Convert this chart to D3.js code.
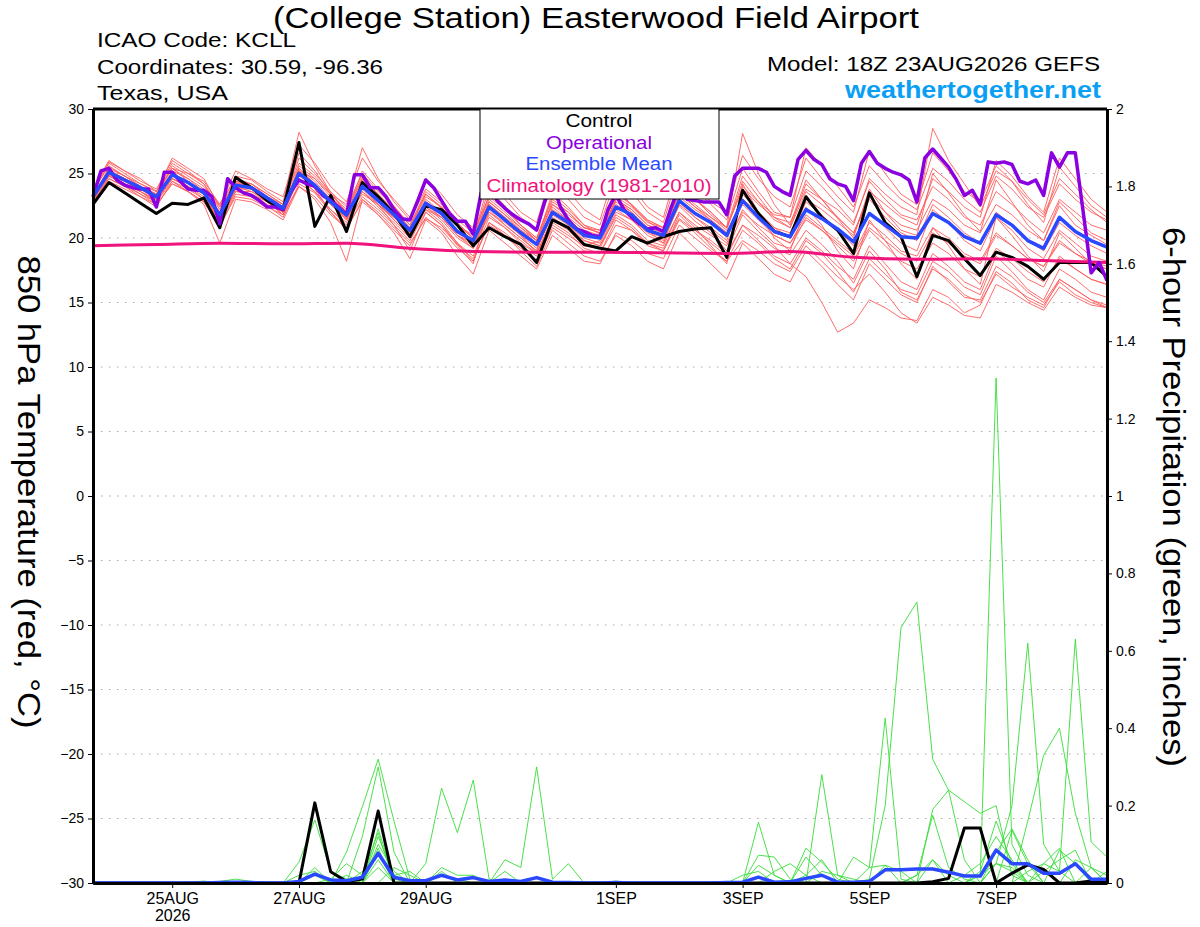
<!DOCTYPE html>
<html>
<head>
<meta charset="utf-8">
<script src="https://cdn.jsdelivr.net/npm/d3@7"></script>
<style>
  body { margin: 0; background: #fff; }
  text { font-family: "Liberation Sans", Helvetica, Arial, sans-serif; }
</style>
</head>
<body>
<div id="chart"></div>
<script>
// run info
const runStart = "2026-08-23T18:00:00Z";
const forecastHours = 384;
const ensStepHours = 6;
const opStepHours = 3;
const climoStepHours = 24;

const tempTicks = [-30, -25, -20, -15, -10, -5, 0, 5, 10, 15, 20, 25, 30];
const precipTicks = [0, 0.2, 0.4, 0.6, 0.8, 1, 1.2, 1.4, 1.6, 1.8, 2];
const dateTicks = ["2026-08-25", "2026-08-27", "2026-08-29", "2026-09-01", "2026-09-03", "2026-09-05", "2026-09-07"];

// 850 hPa temperature, 6-hourly
const controlTemp = [22.6, 24.3, 23.5, 22.7, 21.9, 22.7, 22.6, 23.1, 20.8, 24.7, 23.9, 22.9, 22.2,
  27.4, 20.9, 23.3, 20.5, 24.3, 23.2, 21.9, 20.1, 22.5, 22.2, 21.0, 19.4,
  20.8, 20.1, 19.5, 18.1, 21.4, 20.8, 19.5, 19.2, 19.0, 20.1, 19.6, 20.1, 20.5, 20.7, 20.8, 18.5, 23.7, 21.9, 20.5, 20.1,
  23.2, 21.6, 20.6, 18.8, 23.5, 21.2, 20.1, 17.0, 20.2, 19.8, 18.4, 17.1, 18.9, 18.5, 17.8, 16.8, 18.1, 18.1, 18.1, 17.0];

const meanTemp = [23.2, 25.1, 24.5, 23.9, 23.2, 24.9, 24.3, 23.5, 21.8, 24.1, 23.9, 23.1, 22.3,
  25.0, 24.1, 22.8, 21.8, 24.0, 22.9, 21.8, 20.6, 22.7, 21.9, 20.5, 19.8,
  22.4, 21.4, 20.4, 19.5, 22.0, 21.2, 20.2, 20.0, 22.4, 21.8, 20.6, 20.2, 22.9, 21.9, 21.2, 20.2, 22.9, 21.6, 20.5, 20.1,
  22.2, 21.5, 20.7, 19.7, 21.9, 21.0, 20.1, 20.0, 21.9, 21.2, 20.1, 19.6, 21.8, 21.0, 19.8, 19.2, 21.6, 20.5, 19.8, 19.3];

// operational run, 3-hourly
const operationalTemp = [23.2, 25.2, 25.4, 24.5, 24.1, 23.9, 23.8, 23.8, 22.4, 25.1, 25.1, 24.4, 23.8, 23.7, 23.7, 23.2,
  21.1, 24.6, 23.9, 23.5, 23.3, 22.9, 22.4, 22.4, 22.2, 23.6, 24.5, 24.2, 24.0, 23.3, 22.9, 22.4,
  21.8, 24.9, 24.9, 23.9, 23.9, 23.2, 22.2, 21.5, 21.4, 22.9, 24.5, 23.9, 22.9, 21.9, 21.3, 21.3,
  20.3, 23.5, 24.6, 22.9, 22.3, 21.8, 21.4, 21.1, 20.6, 22.8, 24.3, 22.4, 21.4, 20.7, 20.5, 20.2,
  20.1, 22.2, 23.4, 22.2, 21.6, 21.1, 20.7, 20.8, 20.5, 22.4, 24.0, 23.0, 22.9, 22.8, 22.8, 22.8,
  21.8, 24.8, 25.4, 25.4, 25.4, 25.1, 24.0, 23.6, 23.3, 26.1, 26.8, 26.1, 25.7, 24.6, 24.2, 24.0,
  22.9, 25.8, 26.7, 25.8, 25.4, 25.1, 24.9, 24.5, 22.8, 26.2, 26.9, 26.2, 25.5, 24.5, 23.3, 23.7,
  22.6, 25.9, 25.8, 25.9, 25.7, 24.4, 24.2, 24.5, 23.3, 26.6, 25.5, 26.6, 26.6, 22.0, 17.3, 18.1, 16.7];

// climatology 1981-2010, daily
const climoTemp = [19.4, 19.5, 19.6, 19.55, 19.6, 19.2, 18.95, 18.9, 18.9, 18.85, 18.8, 18.95, 18.5, 18.35, 18.4, 18.25, 18.1];

// ensemble members, 6-hourly
const redMembers = [
  [23.5, 25.8, 25.0, 24.2, 23.6, 26.2, 25.4, 24.6, 22.4, 24.8, 24.5, 23.6, 22.8,
   28.2, 25.6, 23.5, 22.0, 25.2, 23.8, 22.5, 21.0, 23.4, 22.3, 21.2, 20.0,
   23.8, 22.5, 21.0, 19.8, 23.5, 22.4, 21.0, 20.3, 24.0, 22.5, 21.3, 20.5, 24.6, 23.0, 22.0, 20.8, 28.1, 25.0, 22.6, 21.0,
   24.5, 23.0, 21.5, 20.0, 23.8, 22.0, 20.6, 20.2, 25.0, 23.5, 21.8, 20.5, 24.5, 22.8, 21.0, 19.8, 22.5, 21.0, 20.2, 19.5],
  [22.8, 24.6, 24.0, 23.4, 22.6, 24.2, 23.6, 22.8, 20.8, 23.4, 23.2, 22.5, 21.6,
   24.2, 23.5, 22.0, 20.6, 23.0, 22.0, 20.8, 19.6, 21.5, 20.8, 19.5, 18.4,
   21.0, 20.2, 19.2, 18.3, 20.8, 20.0, 19.0, 18.8, 21.0, 20.6, 19.6, 19.2, 21.5, 20.6, 19.8, 18.8, 21.0, 20.2, 19.2, 18.7,
   20.6, 19.5, 18.2, 16.5, 19.0, 17.6, 15.8, 15.2, 17.6, 16.8, 15.6, 15.0, 17.2, 16.2, 15.4, 14.8, 16.6, 15.6, 15.0, 14.6],
  [23.0, 25.2, 24.6, 24.0, 23.4, 25.4, 24.6, 23.8, 22.0, 24.3, 24.0, 23.0, 22.2,
   25.4, 24.4, 23.0, 21.5, 24.5, 23.2, 22.0, 20.6, 23.0, 22.0, 20.6, 19.4,
   22.0, 21.0, 20.0, 19.0, 22.4, 21.4, 20.4, 20.0, 22.6, 21.8, 20.5, 20.0, 22.5, 21.3, 20.4, 19.0, 21.8, 20.5, 19.4, 18.0,
   17.0, 15.0, 12.7, 13.4, 15.2, 14.6, 13.8, 13.6, 16.0, 15.4, 14.2, 14.8, 17.4, 16.5, 15.2, 14.6, 16.8, 16.0, 15.2, 14.6],
  [23.3, 25.3, 24.6, 24.0, 23.0, 24.8, 24.2, 23.6, 21.6, 24.0, 24.2, 23.4, 22.6,
   25.8, 24.8, 23.4, 22.2, 24.8, 23.4, 22.2, 20.8, 23.2, 22.4, 21.0, 20.2,
   23.0, 22.0, 20.8, 19.8, 22.8, 22.0, 20.8, 20.6, 23.2, 22.4, 21.2, 20.8, 24.0, 23.0, 22.0, 20.8, 23.8, 22.6, 21.6, 21.2,
   23.8, 23.0, 22.2, 21.0, 24.6, 23.4, 22.4, 21.8, 28.5, 26.0, 24.2, 22.4, 25.2, 24.4, 22.6, 21.2, 25.5, 24.0, 22.5, 21.6],
  [22.6, 24.8, 24.2, 23.6, 22.8, 25.0, 24.4, 23.4, 21.2, 23.8, 23.4, 22.6, 22.0,
   24.6, 23.6, 22.2, 21.2, 23.6, 22.4, 21.2, 20.0, 22.2, 21.2, 19.6, 18.6,
   21.6, 20.8, 19.6, 18.8, 21.4, 20.6, 19.4, 19.2, 21.8, 21.0, 19.8, 19.4, 22.0, 21.0, 20.2, 19.4, 22.2, 20.8, 19.6, 19.2,
   21.6, 20.6, 19.4, 18.2, 20.6, 19.4, 18.2, 17.6, 19.6, 18.8, 17.6, 17.0, 19.2, 18.4, 17.4, 16.6, 18.4, 17.6, 16.8, 16.4],
  [23.6, 25.6, 24.8, 24.0, 23.4, 25.6, 24.8, 24.0, 22.6, 24.6, 24.2, 23.2, 22.4,
   26.2, 25.0, 23.6, 22.4, 25.0, 23.6, 22.4, 21.0, 23.6, 22.6, 21.0, 20.0,
   24.4, 23.0, 21.6, 20.6, 24.2, 23.0, 21.6, 21.0, 24.6, 23.6, 22.0, 21.2, 25.2, 23.8, 22.6, 21.4, 25.4, 23.6, 22.0, 21.6,
   25.2, 24.0, 22.6, 21.2, 24.4, 23.0, 21.8, 21.4, 24.0, 23.0, 21.6, 21.0, 23.6, 22.6, 21.4, 20.4, 23.0, 22.0, 21.0, 20.6],
  [23.0, 24.9, 24.4, 23.8, 23.0, 24.6, 24.0, 23.2, 21.4, 23.6, 23.6, 23.0, 22.0,
   24.8, 24.0, 22.6, 21.6, 23.4, 22.6, 21.6, 20.4, 22.4, 21.6, 20.2, 19.4,
   22.2, 21.0, 20.0, 19.0, 22.0, 21.0, 19.8, 19.4, 22.0, 21.4, 20.2, 19.6, 22.8, 21.6, 20.8, 19.8, 23.4, 22.0, 20.8, 20.0,
   22.8, 21.8, 20.6, 19.4, 22.0, 20.8, 19.6, 19.0, 22.2, 21.2, 19.8, 19.0, 21.6, 20.6, 19.2, 18.4, 20.6, 19.6, 18.6, 18.2],
  [22.8, 24.6, 24.0, 23.2, 22.4, 24.4, 23.6, 22.6, 19.6, 23.0, 22.8, 22.2, 21.4,
   24.0, 23.0, 21.2, 18.2, 23.0, 21.8, 20.4, 18.4, 21.4, 20.4, 18.6, 17.2,
   20.6, 19.6, 18.6, 17.6, 20.2, 19.2, 18.2, 18.0, 20.4, 19.8, 18.8, 18.4, 21.0, 20.0, 19.0, 18.2, 20.6, 19.6, 18.4, 17.6,
   19.8, 18.8, 17.4, 15.8, 18.4, 17.2, 16.0, 15.6, 18.2, 17.4, 16.2, 15.6, 18.6, 17.4, 16.0, 15.2, 17.6, 16.8, 15.8, 15.4],
  [23.2, 25.4, 24.8, 24.2, 23.6, 25.8, 25.0, 24.2, 22.2, 24.4, 24.2, 23.4, 22.6,
   25.2, 24.6, 23.4, 22.6, 27.0, 24.6, 22.8, 21.4, 23.8, 22.8, 21.4, 20.4,
   23.2, 22.2, 21.0, 20.0, 23.0, 22.0, 20.8, 20.4, 23.4, 22.6, 21.4, 20.8, 23.6, 22.6, 21.6, 20.6, 24.4, 22.8, 21.4, 20.8,
   23.6, 22.6, 21.6, 20.4, 23.2, 22.0, 21.0, 20.6, 23.0, 22.2, 21.0, 20.4, 22.6, 21.8, 20.6, 19.8, 22.8, 21.6, 20.4, 19.8],
  [22.9, 24.8, 24.2, 23.6, 23.0, 24.8, 24.2, 23.4, 21.6, 24.0, 23.8, 23.0, 22.2,
   25.0, 24.0, 22.8, 21.6, 24.2, 22.8, 21.4, 20.2, 22.4, 21.4, 20.0, 19.2,
   21.8, 20.8, 19.8, 18.8, 21.6, 20.8, 19.8, 19.4, 21.6, 20.8, 19.6, 19.0, 21.4, 20.4, 19.2, 18.2, 19.8, 19.0, 18.0, 17.4,
   19.4, 18.2, 17.0, 16.0, 17.2, 15.8, 14.2, 13.4, 15.4, 14.8, 14.0, 13.8, 16.4, 15.8, 15.0, 14.4, 16.2, 15.4, 14.8, 14.6],
  [23.4, 25.2, 24.6, 23.8, 23.2, 25.0, 24.2, 23.6, 21.8, 24.2, 24.0, 23.2, 22.4,
   25.2, 24.2, 22.8, 21.8, 24.2, 23.0, 21.8, 20.6, 22.8, 21.8, 20.6, 19.8,
   22.6, 21.6, 20.6, 19.6, 22.2, 21.4, 20.4, 20.2, 22.8, 22.0, 20.8, 20.4, 23.2, 22.2, 21.4, 20.4, 23.0, 22.0, 20.8, 20.4,
   23.0, 22.2, 21.2, 20.2, 23.6, 22.6, 21.6, 21.0, 24.6, 23.6, 22.4, 21.6, 26.0, 24.8, 23.2, 22.0, 26.2, 24.6, 23.0, 22.0],
  [23.1, 25.0, 24.4, 23.8, 23.2, 25.2, 24.6, 23.6, 22.0, 24.0, 23.8, 22.8, 22.0,
   25.4, 24.2, 22.6, 21.4, 23.8, 22.6, 21.4, 20.2, 22.6, 21.6, 20.2, 19.6,
   22.8, 21.8, 20.6, 19.8, 22.6, 21.6, 20.6, 20.2, 23.0, 22.2, 21.0, 20.4, 23.6, 22.4, 21.4, 20.4, 22.6, 21.4, 20.2, 19.6,
   21.8, 20.8, 19.8, 18.8, 21.2, 20.2, 19.0, 18.6, 20.8, 20.0, 18.8, 18.2, 20.4, 19.4, 18.4, 17.8, 19.8, 18.8, 18.0, 17.6],
  [23.6, 25.9, 25.2, 24.4, 23.8, 26.0, 25.2, 24.2, 22.4, 24.4, 24.0, 23.0, 22.2,
   25.6, 24.6, 23.2, 22.0, 24.6, 23.4, 22.0, 20.8, 23.4, 22.4, 21.0, 20.0,
   22.8, 21.8, 20.8, 19.8, 22.6, 21.8, 20.8, 20.4, 23.0, 22.2, 21.0, 20.6, 23.4, 22.4, 21.6, 20.8, 24.0, 22.8, 21.8, 21.6,
   27.0, 25.6, 24.0, 22.4, 25.6, 24.2, 23.0, 22.2, 25.4, 24.4, 23.0, 22.0, 24.8, 23.8, 22.4, 21.6, 24.2, 23.0, 22.0, 21.4],
  [22.7, 24.4, 23.8, 23.2, 22.6, 24.2, 23.6, 22.8, 21.0, 23.2, 23.0, 22.4, 21.8,
   24.0, 23.2, 21.8, 20.8, 22.8, 21.8, 20.6, 19.4, 21.6, 20.6, 19.2, 18.2,
   21.2, 20.4, 19.4, 18.6, 21.2, 20.4, 19.2, 18.8, 21.4, 20.6, 19.4, 19.0, 21.8, 20.6, 19.6, 18.6, 21.0, 19.8, 18.6, 18.0,
   20.0, 19.0, 17.8, 16.8, 19.4, 18.0, 16.6, 16.0, 18.8, 17.8, 16.6, 16.0, 19.0, 18.0, 16.8, 16.2, 18.6, 17.6, 16.8, 16.4],
  [23.0, 25.5, 24.8, 24.0, 23.4, 25.4, 24.4, 23.4, 21.8, 24.2, 24.0, 23.2, 22.4,
   26.6, 25.2, 23.4, 22.0, 24.6, 23.2, 21.8, 20.4, 22.8, 21.8, 20.4, 19.6,
   23.4, 22.2, 21.0, 20.0, 23.2, 22.2, 21.0, 20.6, 23.6, 22.6, 21.4, 20.8, 24.2, 23.0, 21.8, 20.8, 24.8, 23.2, 21.6, 20.8,
   24.2, 23.0, 21.6, 20.4, 23.0, 21.6, 20.4, 19.8, 22.6, 21.6, 20.4, 19.6, 22.0, 21.0, 19.8, 19.0, 21.2, 20.2, 19.4, 18.8],
  [23.3, 25.0, 24.4, 23.8, 23.0, 24.6, 24.0, 23.4, 21.4, 23.8, 23.8, 23.2, 22.6,
   24.4, 24.0, 22.8, 21.4, 23.6, 22.6, 21.6, 20.6, 22.2, 21.6, 20.2, 19.2,
   22.0, 21.2, 20.2, 19.2, 21.8, 21.0, 20.0, 19.6, 22.2, 21.4, 20.4, 19.8, 22.6, 21.6, 20.6, 19.6, 22.0, 21.0, 20.2, 19.6,
   21.4, 20.6, 19.6, 18.6, 20.8, 19.8, 18.8, 18.2, 20.4, 19.6, 18.6, 18.0, 20.2, 19.4, 18.4, 17.8, 19.6, 18.8, 18.2, 17.8],
  [23.2, 24.9, 24.2, 23.4, 22.8, 24.4, 23.8, 23.0, 21.0, 23.6, 23.4, 22.8, 21.8,
   24.6, 23.6, 22.2, 21.0, 23.2, 22.2, 21.0, 19.8, 22.0, 21.0, 19.6, 18.2,
   21.2, 20.2, 19.0, 17.8, 20.6, 19.6, 18.6, 18.2, 20.2, 19.4, 18.2, 17.6, 20.4, 19.2, 18.0, 16.8, 19.6, 18.4, 17.2, 16.6,
   19.0, 17.8, 16.4, 15.2, 18.0, 16.8, 15.6, 15.0, 17.8, 16.6, 15.4, 15.2, 17.8, 17.0, 15.8, 15.0, 16.8, 16.0, 15.2, 14.8],
  [23.8, 26.0, 25.2, 24.6, 23.6, 25.4, 25.0, 24.4, 22.6, 25.2, 24.6, 23.8, 23.2,
   27.2, 25.8, 24.0, 22.8, 26.2, 24.4, 23.0, 21.6, 24.6, 23.4, 21.8, 20.8,
   24.8, 23.4, 22.0, 21.2, 25.2, 23.6, 22.2, 21.4, 25.4, 24.0, 22.4, 21.6, 25.8, 24.2, 22.8, 22.0, 26.4, 24.6, 23.2, 22.4,
   26.2, 24.6, 23.2, 22.0, 26.8, 25.0, 23.4, 22.6, 26.6, 25.2, 23.6, 22.8, 25.6, 24.4, 23.0, 21.8, 24.6, 23.4, 22.2, 21.2],
  [22.9, 25.0, 24.4, 23.6, 22.8, 24.6, 24.0, 23.0, 21.2, 24.0, 23.6, 22.8, 21.8,
   25.2, 23.8, 22.0, 20.8, 24.0, 22.6, 21.0, 19.0, 22.0, 21.0, 19.4, 18.0,
   22.6, 21.6, 20.2, 18.8, 21.0, 20.2, 19.4, 19.8, 23.0, 22.0, 20.6, 19.6, 22.0, 20.8, 19.4, 18.0, 24.2, 22.0, 20.0, 19.0,
   22.4, 21.0, 19.0, 17.6, 21.4, 19.8, 18.0, 16.8, 20.8, 19.4, 17.6, 16.4, 21.6, 20.2, 18.6, 17.4, 20.4, 19.2, 18.0, 17.6]
];

// 6-hour precipitation (inches), 6-hourly
const controlPrecip = [0, 0, 0, 0, 0, 0, 0, 0, 0, 0,
  0, 0, 0, 0, .207, .029, .004, .01, .186, 0,
  0, 0, 0, 0, 0, 0, 0, 0, 0, 0,
  0, 0, 0, 0, 0, 0, 0, 0, 0, 0,
  0, 0, 0, 0, 0, 0, 0, 0, 0, 0,
  0, 0, 0, .003, .012, .142, .142, 0, .025, .047,
  .035, 0, 0, .005, .003];

const meanPrecip = [0, 0, 0, 0, 0, 0, 0, 0, .001, .002,
  .001, 0, 0, .004, .023, .008, .006, .015, .077, .015,
  .006, .006, .02, .008, .014, .004, .008, .004, .014, .002,
  .001, 0, 0, .001, 0, 0, 0, 0, 0, 0,
  .001, .002, .015, .002, .003, .012, .02, .002, .002, .004,
  .034, .034, .036, .036, .028, .018, .018, .085, .05, .05,
  .025, .025, .05, .01, .01];

const greenMembers = [
  [0,0,0,0,0,0,0,0,0,0, 0,0,0,.054,.163,.03,.01,0,0,0, 0,0,0,0,0,0,0,0,0,0, 0,0,0,0,0,0,0,0,0,0, 0,0,.157,.02,0,0,0,0,0,0, 0,0,0,0,0,0,0,.05,.03,0, 0,0,0,0,0],
  [0,0,0,0,0,0,0,0,0,0, 0,0,0,0,0,0,.08,.197,.32,.16, .01,0,0,0,0,0,0,0,0,0, 0,0,0,0,0,0,0,0,0,0, 0,0,0,0,0,0,.28,.02,.01,0, 0,0,0,0,0,0,0,0,0,0, 0,.085,.05,0,0],
  [0,0,0,0,0,0,0,0,0,0, 0,0,0,0,0,0,0,.12,.3,.08, 0,0,0,0,0,0,0,0,0,0, 0,0,0,0,0,0,0,0,0,0, 0,0,0,0,0,0,0,0,0,.04, .426,.01,0,0,0,0,0,0,.136,.05, 0,0,0,0,0],
  [0,0,0,0,0,0,0,0,0,0, 0,0,0,0,0,0,0,0,0,0, 0,.05,.245,.13,.266,.01,0,0,0,0, 0,0,0,0,0,0,0,0,0,0, 0,0,0,0,0,0,0,0,0,0, 0,0,0,.19,.24,.06,0,0,0,0, 0,0,0,.04,0],
  [0,0,0,0,0,0,0,0,0,0, 0,0,0,0,0,0,0,0,0,0, 0,0,0,0,0,0,.06,.04,.3,.01, .05,0,0,0,0,0,0,0,0,0, 0,0,0,0,0,.09,.054,.01,0,0, 0,0,0,0,0,0,.02,1.305,.1,.02, 0,0,0,0,0],
  [0,0,0,0,0,0,0,0,0,0, 0,0,0,0,0,0,0,0,.12,.02, 0,0,0,0,0,0,0,0,0,0, 0,0,0,0,0,0,0,0,0,0, 0,0,0,0,0,0,0,0,0,.01, .2,.66,.726,.32,.24,.21,.18,.2,.02,0, 0,0,0,0,0],
  [0,0,0,0,0,0,0,0,0,0, 0,0,0,0,.04,0,0,0,.1,.03, 0,0,0,0,0,0,0,0,0,0, 0,0,0,0,0,0,0,0,0,0, 0,0,.072,.067,.01,0,0,0,0,0, 0,0,0,0,0,0,0,.05,.2,.62, .1,.03,0,0,0],
  [0,0,0,0,0,0,0,0,0,0, 0,0,0,0,0,0,.02,0,.08,0, 0,0,.03,0,0,0,0,0,0,0, 0,0,0,0,0,0,0,0,0,0, 0,0,0,0,0,.067,.02,0,0,0, 0,0,0,0,0,0,0,0,0,.16, .33,.4,.18,.04,0],
  [0,0,0,0,0,0,0,0,.004,.01, .004,0,0,0,0,0,0,0,.06,0, 0,0,0,0,0,0,0,0,0,0, 0,0,0,0,0,0,0,0,0,0, 0,0,.046,.02,0,0,0,0,0,0, 0,0,0,.06,.02,0,0,.08,.14,.06, 0,0,0,0,0],
  [0,0,0,0,0,0,0,0,0,0, 0,0,0,.02,.03,0,0,0,.04,0, 0,0,0,0,0,0,0,0,0,0, 0,0,0,0,0,0,0,0,0,0, 0,0,0,0,0,0,0,0,.067,.04, .046,0,0,0,0,0,0,0,0,0, .05,.03,.63,.106,.067],
  [0,0,0,0,0,0,0,0,0,0, 0,0,0,0,0,.01,.05,.02,.13,0, 0,0,.02,.01,0,0,0,0,0,0, 0,0,0,0,0,0,0,0,0,0, 0,0,0,0,0,0,0,0,0,0, 0,0,.02,.175,.04,.01,0,0,0,0, 0,0,.06,.04,.02],
  [0,0,0,0,0,0,0,0,0,0, 0,0,0,0,0,0,0,.03,.07,.02, .03,0,0,0,0,0,0,0,0,0, 0,0,0,0,0,0,0,0,0,0, 0,.02,.03,0,0,0,0,0,0,0, .046,.03,0,0,0,0,.03,.16,.05,0, 0,0,0,0,0],
  [0,0,0,0,0,0,0,0,0,0, 0,0,0,0,0,0,0,0,0,0, 0,0,.04,.02,.02,0,0,0,0,0, 0,0,0,.005,0,0,0,0,0,0, 0,0,0,0,0,0,.03,.02,0,0, 0,0,0,0,0,.02,.05,.12,.06,0, 0,0,0,0,0],
  [0,0,0,0,0,0,0,0,0,0, 0,0,0,0,.02,0,0,0,0,.04, .02,0,0,0,0,0,.03,0,0,0, 0,0,0,0,0,0,0,0,0,0, 0,0,0,0,0,0,0,0,0,0, 0,0,.02,.06,0,0,0,0,0,0, .03,.06,.085,0,0],
  [0,0,0,0,0,0,0,0,0,0, 0,0,0,0,0,0,0,0,.14,.01, 0,0,0,0,0,0,0,0,0,0, 0,0,0,0,0,0,0,0,0,0, 0,0,0,0,0,.02,.06,0,0,0, 0,0,0,0,0,0,0,0,0,.03, .05,.09,0,0,.03],
  [0,0,0,0,0,0,.002,.005,0,0, 0,0,0,0,0,0,0,0,.09,0, 0,0,0,0,0,0,0,0,0,0, 0,0,0,0,0,0,0,0,0,0, 0,0,0,.03,.05,.02,0,0,0,0, 0,0,0,0,0,0,.02,.05,.04,0, 0,0,0,0,0]
];

const legendItems = ["Control", "Operational", "Ensemble Mean", "Climatology (1981-2010)"];
const legendColors = ["#000000", "#8a00e0", "#2a48ff", "#f0137c"];

const margin = {top: 109, right: 93, bottom: 44, left: 93};
const width = 1200 - margin.left - margin.right;
const height = 927 - margin.top - margin.bottom;

const svg = d3.select("#chart")
  .append("svg")
  .attr("width", 1200)
  .attr("height", 927);

const g = svg.append("g")
  .attr("transform", `translate(${margin.left},${margin.top})`);

const t0 = new Date(runStart);
const timeAt = (i, step) => new Date(t0.getTime() + i * step * 3600e3);

const x = d3.scaleUtc()
  .domain([t0, timeAt(forecastHours, 1)])
  .range([0, width]);

const yT = d3.scaleLinear().domain([-30, 30]).range([height, 0]);
const yP = d3.scaleLinear().domain([0, 2]).range([height, 0]);

// the labels in the original are set in a wide face, so stretch ours to the same run length
function stretch(sel, w) {
  sel.attr("textLength", w).attr("lengthAdjust", "spacingAndGlyphs");
}

// dotted grid on the temperature ticks
g.append("g")
  .selectAll("line")
  .data(tempTicks.filter(d => d > -30 && d < 30))
  .join("line")
  .attr("x1", 0).attr("x2", width)
  .attr("y1", d => yT(d)).attr("y2", d => yT(d))
  .attr("stroke", "#a8a8a8")
  .attr("stroke-width", 1.2)
  .attr("stroke-dasharray", "1.5,6.5");

const tempLine = step => d3.line()
  .x((d, i) => x(timeAt(i, step)))
  .y(d => yT(d));

const precipLine = d3.line()
  .x((d, i) => x(timeAt(i, ensStepHours)))
  .y(d => yP(d));

// members
g.append("g")
  .selectAll("path")
  .data(redMembers)
  .join("path")
  .attr("d", tempLine(ensStepHours))
  .attr("fill", "none")
  .attr("stroke", "#ff5c5c")
  .attr("stroke-width", 0.9);

g.append("g")
  .selectAll("path")
  .data(greenMembers)
  .join("path")
  .attr("d", precipLine)
  .attr("fill", "none")
  .attr("stroke", "#38dc38")
  .attr("stroke-width", 0.9);

// control
g.append("path")
  .datum(controlTemp)
  .attr("d", tempLine(ensStepHours))
  .attr("fill", "none").attr("stroke", "#000").attr("stroke-width", 3)
  .attr("stroke-linejoin", "round");

g.append("path")
  .datum(controlPrecip)
  .attr("d", precipLine)
  .attr("fill", "none").attr("stroke", "#000").attr("stroke-width", 3)
  .attr("stroke-linejoin", "round");

// climatology
g.append("path")
  .datum(climoTemp)
  .attr("d", tempLine(climoStepHours).curve(d3.curveMonotoneX))
  .attr("fill", "none").attr("stroke", legendColors[3]).attr("stroke-width", 3);

// operational
g.append("path")
  .datum(operationalTemp)
  .attr("d", tempLine(opStepHours))
  .attr("fill", "none").attr("stroke", legendColors[1]).attr("stroke-width", 3.5)
  .attr("stroke-linejoin", "round");

// ensemble mean
g.append("path")
  .datum(meanTemp)
  .attr("d", tempLine(ensStepHours))
  .attr("fill", "none").attr("stroke", legendColors[2]).attr("stroke-width", 3.5)
  .attr("stroke-linejoin", "round");

g.append("path")
  .datum(meanPrecip)
  .attr("d", precipLine)
  .attr("fill", "none").attr("stroke", legendColors[2]).attr("stroke-width", 3.5)
  .attr("stroke-linejoin", "round");

// axes
const leftAxis = g.append("g")
  .call(d3.axisLeft(yT).tickValues(tempTicks).tickSize(5).tickSizeOuter(0).tickPadding(4));

const rightAxis = g.append("g")
  .attr("transform", `translate(${width},0)`)
  .call(d3.axisRight(yP).tickValues(precipTicks).tickSize(5).tickSizeOuter(0).tickPadding(4)
    .tickFormat(d => String(+d.toFixed(1))));

const fmtDay = d3.utcFormat("%-d%b");
const bottomAxis = g.append("g")
  .attr("transform", `translate(0,${height})`)
  .call(d3.axisBottom(x)
    .tickValues(dateTicks.map(d => new Date(d + "T00:00:00Z")))
    .tickSize(5).tickSizeOuter(0).tickPadding(5)
    .tickFormat(d => fmtDay(d).toUpperCase()));

bottomAxis.select(".tick text")
  .append("tspan")
  .attr("x", 0).attr("dy", "1.05em")
  .text(d => d3.utcFormat("%Y")(d));

[leftAxis, rightAxis, bottomAxis].forEach(ax => {
  ax.selectAll("text").attr("fill", "#000").style("font-size", "14px");
  ax.selectAll(".tick line").attr("stroke", "#000");
  ax.select(".domain").attr("stroke", "#000").attr("stroke-width", 3);
});
bottomAxis.selectAll("text").style("font-size", "16px");

// top frame
g.append("line")
  .attr("x1", 0).attr("x2", width).attr("y1", 0).attr("y2", 0)
  .attr("stroke", "#000").attr("stroke-width", 3);

// legend box
const legendWidths = [67, 106, 147, 225];
const legend = g.append("g").attr("transform", "translate(387,0)");
legend.append("rect")
  .attr("x", 0).attr("y", 0).attr("width", 239).attr("height", 90)
  .attr("fill", "#fff").attr("stroke", "#000").attr("stroke-width", 1);
legend.selectAll("text")
  .data(legendItems)
  .join("text")
  .attr("x", 119).attr("y", (d, i) => 18 + i * 21.5)
  .attr("text-anchor", "middle")
  .attr("fill", (d, i) => legendColors[i])
  .attr("textLength", (d, i) => legendWidths[i])
  .attr("lengthAdjust", "spacingAndGlyphs")
  .style("font-size", "17.5px")
  .text(d => d);

// titles
svg.append("text")
  .attr("x", 596).attr("y", 28)
  .attr("text-anchor", "middle")
  .style("font-size", "29px")
  .text("(College Station) Easterwood Field Airport")
  .call(stretch, 646);

const info = ["ICAO Code: KCLL", "Coordinates: 30.59, -96.36", "Texas, USA"];
const infoWidths = [199, 286, 131];
svg.append("g").selectAll("text")
  .data(info)
  .join("text")
  .attr("x", 97).attr("y", (d, i) => 47 + i * 26.5)
  .attr("textLength", (d, i) => infoWidths[i])
  .attr("lengthAdjust", "spacingAndGlyphs")
  .style("font-size", "20.5px")
  .text(d => d);

svg.append("text")
  .attr("x", 1100).attr("y", 71)
  .attr("text-anchor", "end")
  .style("font-size", "20.5px")
  .text("Model: 18Z 23AUG2026 GEFS")
  .call(stretch, 333);

svg.append("text")
  .attr("x", 1101).attr("y", 98)
  .attr("text-anchor", "end")
  .attr("fill", "#0a9ff5")
  .style("font-size", "24px")
  .style("font-weight", "bold")
  .text("weathertogether.net")
  .call(stretch, 256);

svg.append("text")
  .attr("transform", "translate(18,492) rotate(90)")
  .attr("text-anchor", "middle")
  .style("font-size", "31px")
  .text("850 hPa Temperature (red, °C)")
  .call(stretch, 473);

svg.append("text")
  .attr("transform", "translate(1163,497) rotate(90)")
  .attr("text-anchor", "middle")
  .style("font-size", "31px")
  .text("6-hour Precipitation (green, inches)")
  .call(stretch, 540);
</script>
</body>
</html>
